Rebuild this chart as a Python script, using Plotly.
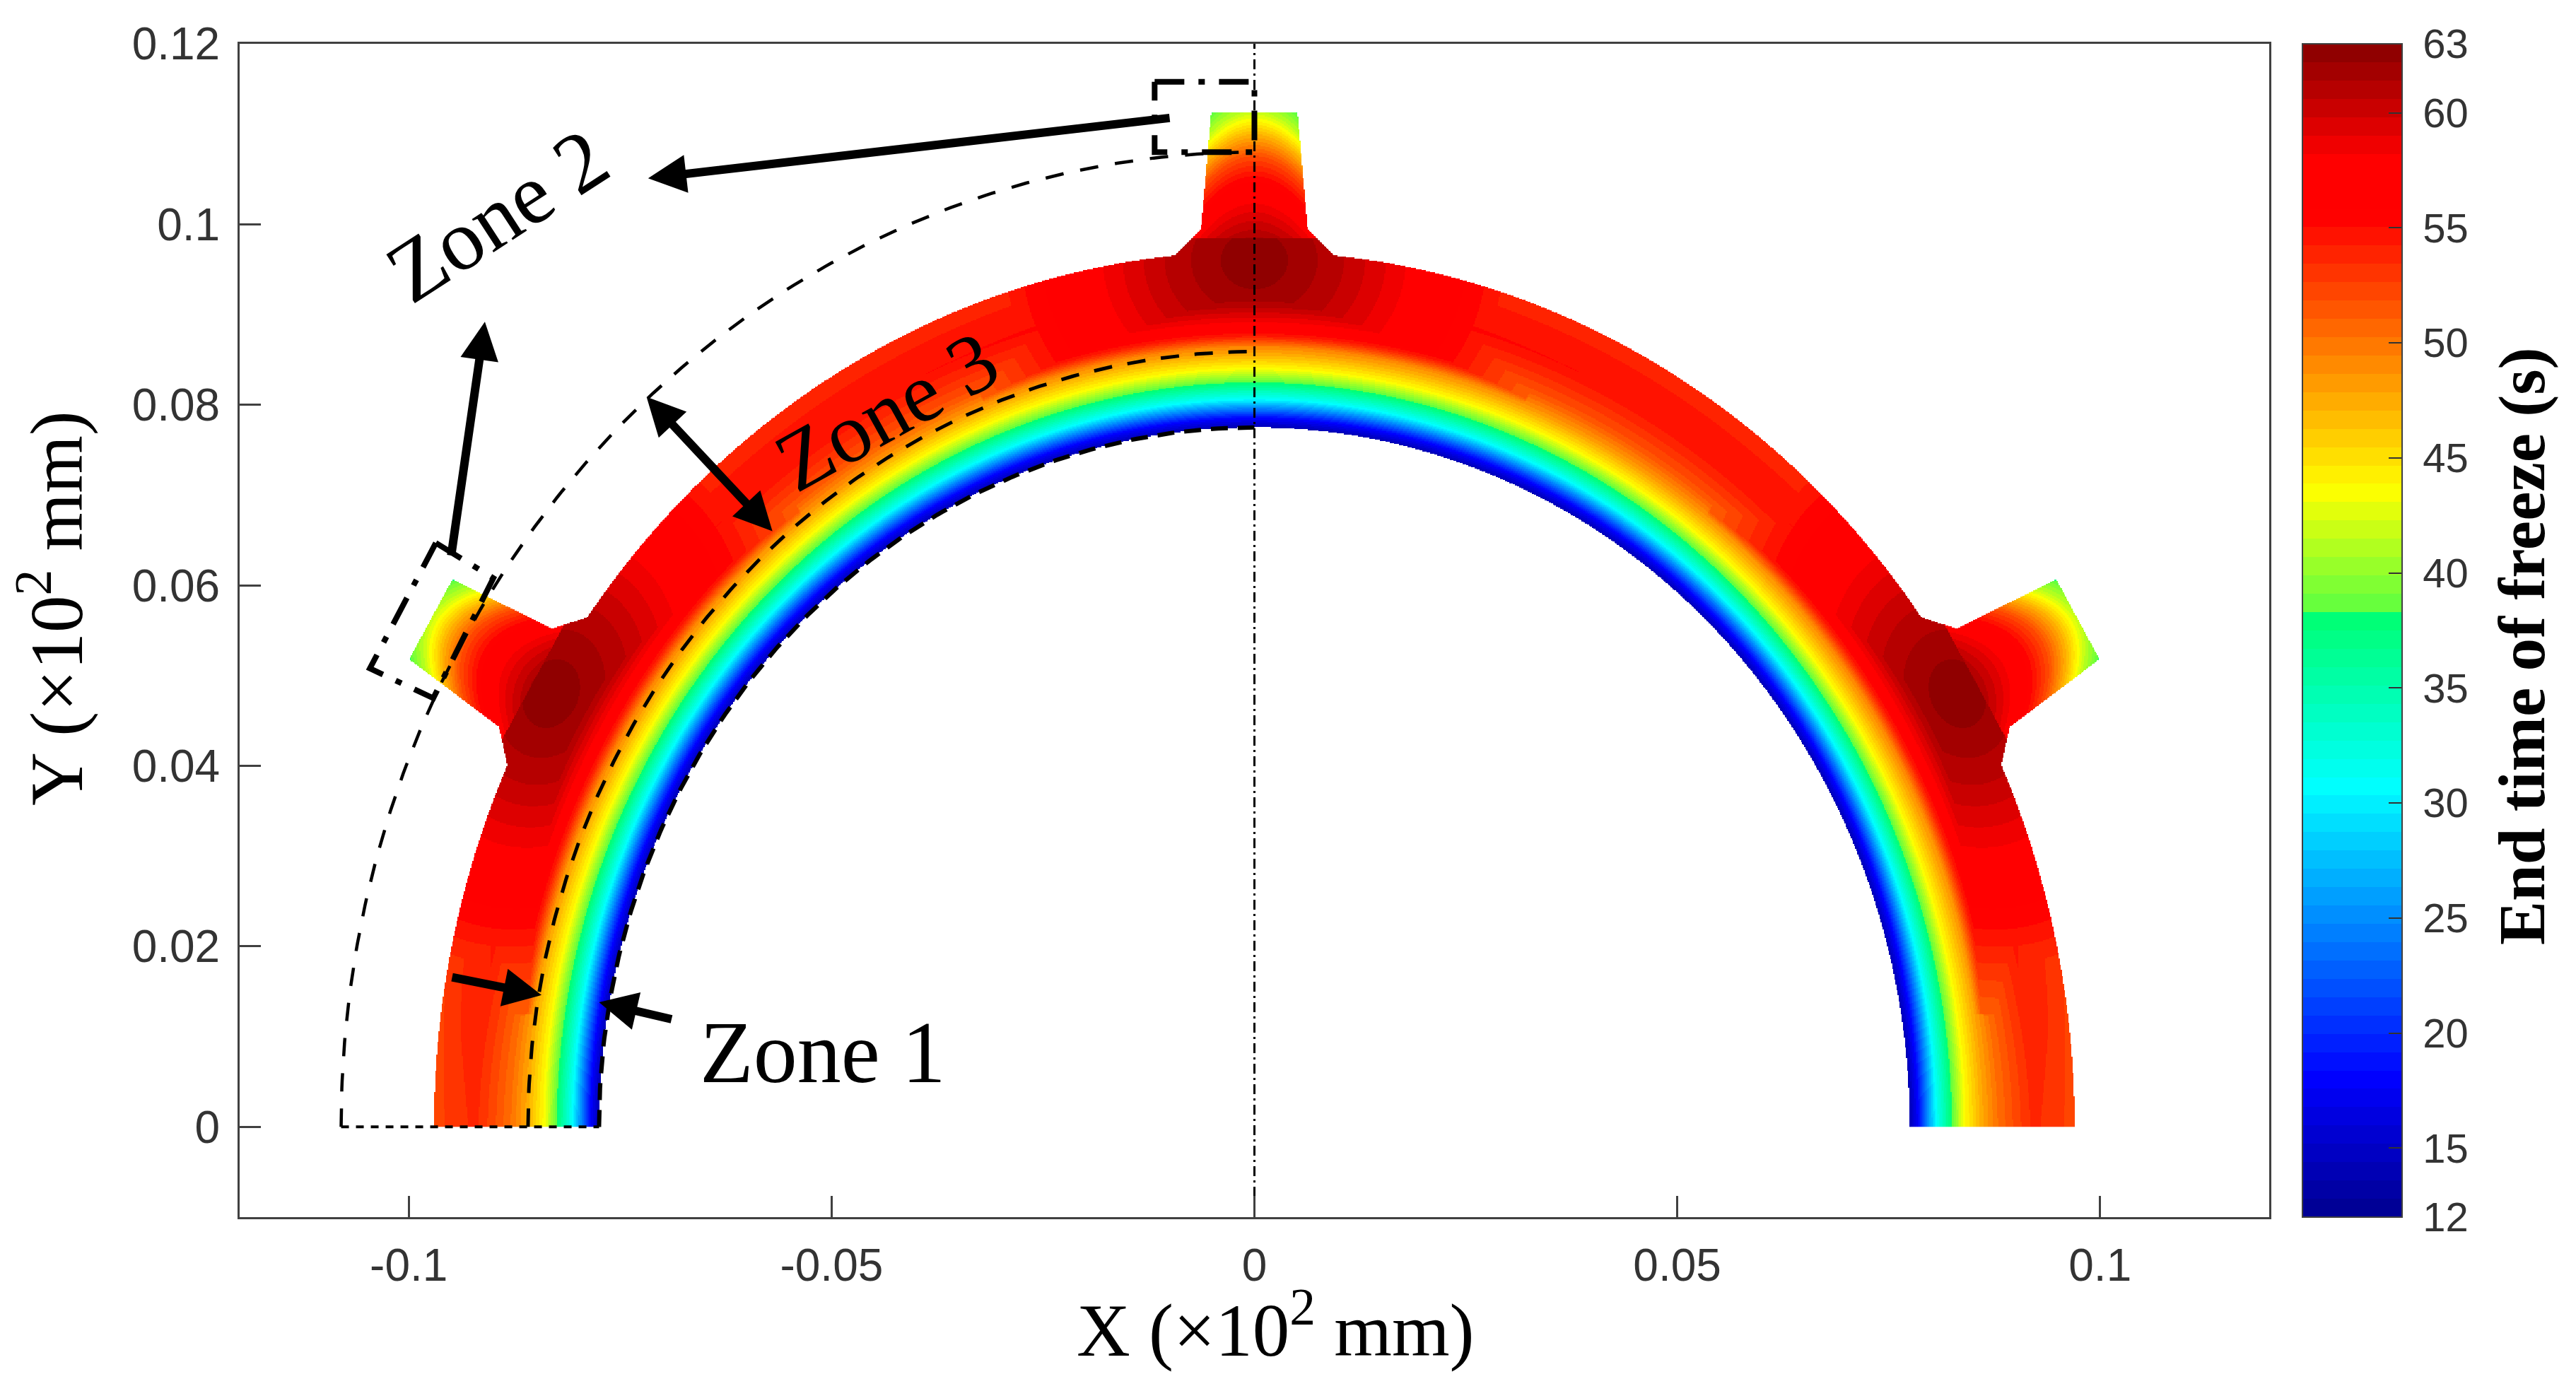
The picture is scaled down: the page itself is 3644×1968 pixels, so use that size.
import numpy as np
import plotly.graph_objects as go

# ---- values ----
x_ticks = [-0.1, -0.05, 0, 0.05, 0.1]
x_labels = ["-0.1", "-0.05", "0", "0.05", "0.1"]
y_ticks = [0, 0.02, 0.04, 0.06, 0.08, 0.1, 0.12]
y_labels = ["0", "0.02", "0.04", "0.06", "0.08", "0.1", "0.12"]
cb_ticks = [12, 15, 20, 25, 30, 35, 40, 45, 50, 55, 60, 63]

# colour anchors of the bar: value, rgb
cmap_vals = [12, 18, 30.7, 38.4, 38.41, 43.6, 55.5, 58, 63]
cmap_rgb = [(0, 0, 143), (0, 0, 255), (0, 255, 255), (0, 255, 110), (95, 255, 65),
            (255, 255, 0), (255, 0, 0), (255, 0, 0), (135, 0, 0)]

# end time of freeze across the ring wall: radius -> seconds
wall_r = [0.0775, 0.0785, 0.0806, 0.0824, 0.0840, 0.0860, 0.0878, 0.0900, 0.0920, 0.0945, 0.0970]
wall_t = [14, 18, 30.7, 38, 43.6, 47.5, 50, 52, 53.5, 53, 52]
# extra seconds in the outer wall by angle around the ring
angle_deg = [0, 15, 30, 45, 60, 75, 90, 105, 120, 135, 150, 165, 180]
angle_dt = [0, 1, 2, 1.5, 1.5, 1.6, 2, 1.6, 1.5, 1.5, 2, 1, 0]
# around a hot spot: distance -> seconds
hot_d = [0, 0.004, 0.008, 0.012, 0.016, 0.022, 0.030]
hot_t = [63, 62, 60.8, 59.2, 57.5, 55, 51]
# highest value a hot spot reaches at a given radius
cap_r = [0.0775, 0.0835, 0.0860, 0.0875, 0.0890, 0.0910, 0.0930]
cap_t = [0, 0, 47.5, 54, 58, 61, 63]
# along a riser: height -> seconds
riser_v = [0.0970, 0.0995, 0.1020, 0.1050, 0.1075, 0.1085, 0.1100, 0.1115, 0.1125, 0.1148]
riser_t = [63, 60.5, 58.5, 55.5, 52, 50, 47, 43.6, 41.5, 38]
# riser outline: height -> half width
outline_v = [0.0960, 0.0995, 0.11246]
outline_hw = [0.01005, 0.0063, 0.0051]
riser_angles = [30, 90, 150]

r_in, r_out, r_zone3, r_zone2 = 0.0775, 0.0970, 0.0859, 0.108

# ---- colour scale ----
def rgb_at(v):
    return [float(np.interp(v, cmap_vals, [c[i] for c in cmap_rgb])) for i in range(3)]

n_levels = 64
zmin, zmax = 12, 63
colorscale = []
for i in range(n_levels):
    mid = zmin + (i + 0.5) * (zmax - zmin) / n_levels
    col = "rgb(%d,%d,%d)" % tuple(rgb_at(mid))
    colorscale.append([i / n_levels, col])
    colorscale.append([(i + 1) / n_levels, col])

# ---- field on a grid ----
xg = np.arange(-0.1052, 0.1052, 1.5 / 11962)
yg = np.arange(0.00006, 0.1130, 1.5 / 12769)
X, Y = np.meshgrid(xg, yg)
R = np.hypot(X, Y)
TH = np.degrees(np.arctan2(Y, X))
weight = np.interp(R, [0.084, 0.088], [0, 1])
fine_a = np.arange(-30.0, 211.0)
fine_dt = np.convolve(np.interp(fine_a, angle_deg, angle_dt), np.ones(15) / 15, mode="same")
T = np.interp(R, wall_r, wall_t) + weight * np.interp(TH, fine_a, fine_dt)
mask = (R >= r_in) & (R <= r_out)
cap = np.interp(R, cap_r, cap_t)
for a in riser_angles:
    t = np.radians(a - 90)
    U = X * np.cos(t) + Y * np.sin(t)
    V = -X * np.sin(t) + Y * np.cos(t)
    D = np.hypot(U / 1.25, V - 0.0960)
    H = np.interp(D, hot_d, hot_t)
    inside = (V >= outline_v[0]) & (V <= outline_v[-1]) & (np.abs(U) <= np.interp(V, outline_v, outline_hw))
    G = np.interp(V + 90 * U ** 2, riser_v, riser_t)
    T = np.where(D < 0.03, np.maximum(T, np.minimum(H, cap)), T)
    T = np.where(inside & (V > 0.0985), np.minimum(G, H), T)
    mask |= inside
Z = np.where(mask, T, np.nan).astype(np.float32)

fig = go.Figure()
fig.add_trace(go.Heatmap(
    x=xg, y=yg, z=Z, zmin=zmin, zmax=zmax, colorscale=colorscale, hoverinfo="skip",
    colorbar=dict(
        x=1.0164, xanchor="left", xpad=0, y=0, yanchor="bottom", ypad=0, len=1,
        thickness=141, thicknessmode="pixels", outlinecolor="#404040", outlinewidth=2,
        tickmode="array", tickvals=cb_ticks, ticktext=["\u00a0" + str(v) for v in cb_ticks],
        ticks="inside", ticklen=20, tickwidth=2, tickcolor="#333333",
        tickfont=dict(family="Liberation Sans", size=58, color="#333333"),
    ),
))

def arc(radius, a0=0, a1=90):
    a = np.radians(np.linspace(a0, a1, 200))
    return -radius * np.cos(a), radius * np.sin(a)

def line(xs, ys, width, dash):
    fig.add_trace(go.Scatter(x=xs, y=ys, mode="lines", showlegend=False, hoverinfo="skip",
                             line=dict(color="black", width=width, dash=dash)))

x1, y1 = arc(r_in)
line(x1, y1, 6, "24px,14px")
x2, y2 = arc(r_zone3)
line(x2, y2, 5, "26px,22px")
x3, y3 = arc(r_zone2)
line(x3, y3, 4.5, "26px,24px")
line([-r_zone2, -r_in], [0, 0], 4, "11px,10px")
line([0, 0], [-0.01, 0.12], 3, "14px,6px,3px,6px")
# dash-dot boxes
box_dash = "42px,20px,9px,20px"
line([-0.0118, 0.0, 0.0, -0.0118, -0.0118], [0.1158, 0.1158, 0.1080, 0.1080, 0.1158], 8, box_dash)
line([-0.0968, -0.0900, -0.0971, -0.1046, -0.0968], [0.0647, 0.0608, 0.0475, 0.0508, 0.0647], 8, box_dash)

def arrow(x_from, y_from, x_to, y_to, both=False):
    fig.add_annotation(x=x_to, y=y_to, ax=x_from, ay=y_from, xref="x", yref="y", axref="x", ayref="y",
                       text="", showarrow=True, arrowhead=2, arrowsize=0.9, arrowwidth=12, arrowcolor="black",
                       arrowside="end+start" if both else "end", startarrowhead=2, startarrowsize=0.9)

arrow(-0.0099, 0.1118, -0.0717, 0.1051)
arrow(-0.0950, 0.0632, -0.0910, 0.0892)
arrow(-0.0720, 0.0810, -0.0570, 0.0660, both=True)
arrow(-0.0950, 0.0166, -0.0843, 0.0146)
arrow(-0.0688, 0.0119, -0.0775, 0.0138)

def label(x, y, s, size, angle):
    fig.add_annotation(x=x, y=y, xref="x", yref="y", text=s, showarrow=False, textangle=angle,
                       font=dict(family="Liberation Serif", size=size, color="black"))

label(-0.0510, 0.0082, "Zone 1", 124, 0)
label(-0.0896, 0.1010, "Zone 2", 122, -33)
label(-0.0435, 0.0793, "Zone 3", 120, -29)

def paper_text(x, y, s, size, angle):
    fig.add_annotation(xref="paper", yref="paper", x=x, y=y, xanchor="center", yanchor="middle", text=s,
                       showarrow=False, textangle=angle,
                       font=dict(family="Liberation Serif", size=size, color="black"))

paper_text(1.1243, 0.4867, "<b>End time of freeze (s)</b>", 93, -90)
paper_text(0.5106, -0.0922, "X (×10<sup>2</sup> mm)", 105, 0)
paper_text(-0.0925, 0.519, "Y (×10<sup>2</sup> mm)", 105, -90)

axis_common = dict(showgrid=False, zeroline=False, showline=True, mirror=True, linecolor="#404040",
                   linewidth=3, ticks="inside", ticklen=30, tickwidth=3, tickcolor="#404040",
                   tickfont=dict(family="Liberation Sans", size=64, color="#333333"), tickmode="array")

fig.update_layout(
    width=3644, height=1968, autosize=False, paper_bgcolor="white", plot_bgcolor="white",
    margin=dict(l=339, r=434, t=62, b=246), showlegend=False,
    xaxis=dict(range=[-0.12, 0.12], tickvals=x_ticks, ticktext=x_labels, ticklabelstandoff=10, **axis_common),
    yaxis=dict(range=[-0.01, 0.12], tickvals=y_ticks, ticktext=y_labels, ticklabelstandoff=12, **axis_common),
)

fig.write_html("out.html", config={"displayModeBar": False},
               post_script="document.body.style.margin='0';document.body.style.overflow='hidden';")
